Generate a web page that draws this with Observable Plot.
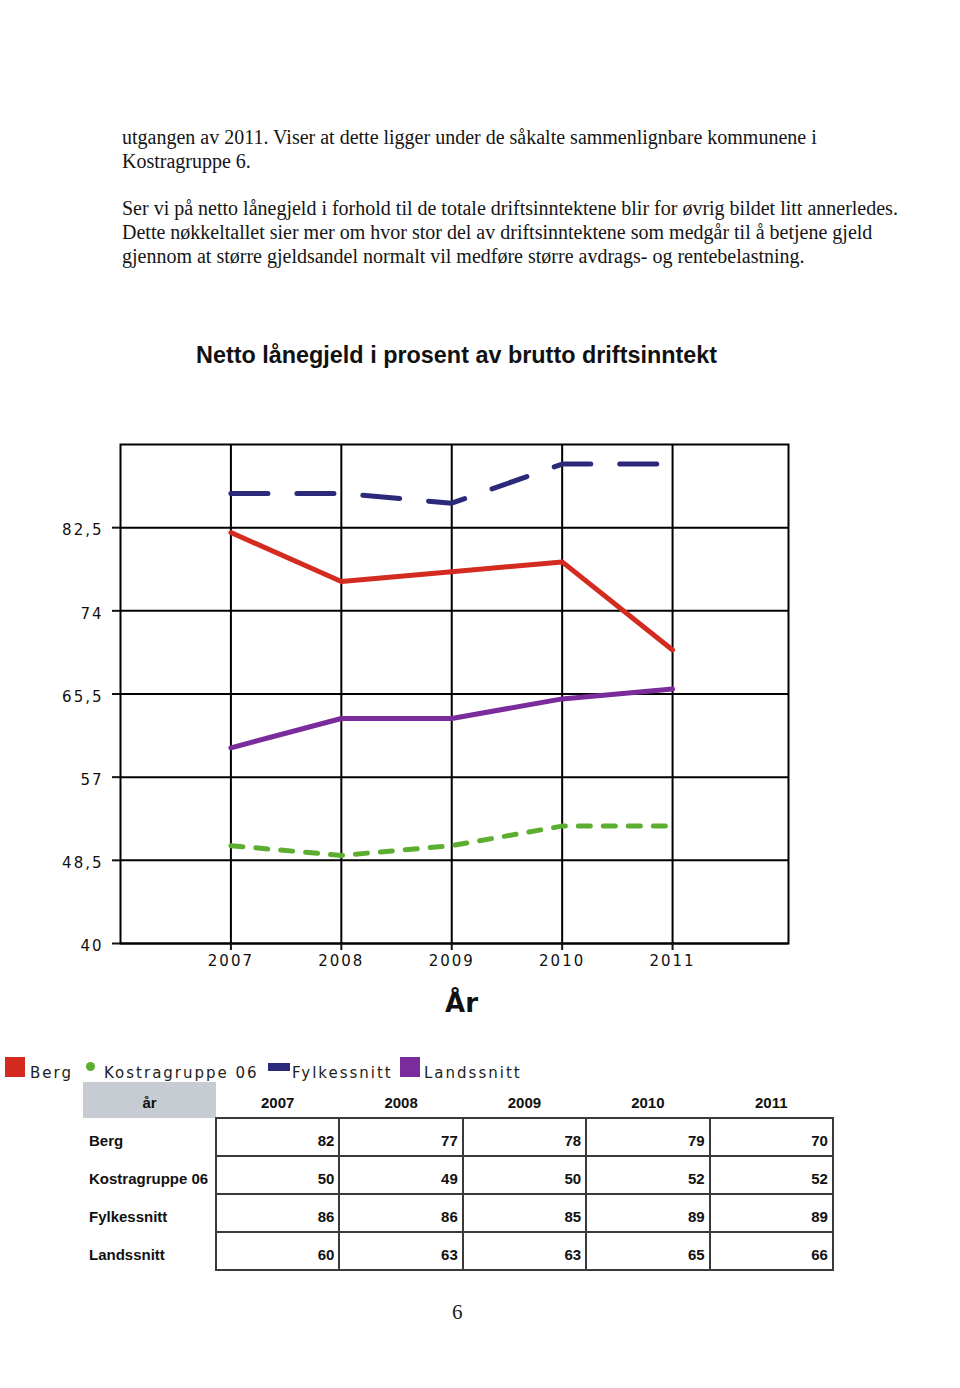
<!DOCTYPE html>
<html><head><meta charset="utf-8">
<script src="https://cdn.jsdelivr.net/npm/d3@7"></script>
<script src="https://cdn.jsdelivr.net/npm/@observablehq/plot@0.6"></script>
<style>
body{margin:0;background:#fff;width:960px;height:1388px;position:relative;overflow:hidden;}
.p{position:absolute;left:122px;font-family:"Liberation Serif","Times New Roman",serif;font-size:19.4px;color:#151515;white-space:nowrap;line-height:24px;}
#title{position:absolute;left:196px;top:341px;font-family:"Liberation Sans",Arial,sans-serif;font-weight:bold;font-size:23.4px;color:#111;white-space:nowrap;line-height:28px;}
#chart{position:absolute;left:0;top:430px;}
.leg{position:absolute;font-family:"DejaVu Sans",Verdana,sans-serif;font-size:15px;letter-spacing:2px;color:#222;white-space:nowrap;line-height:20px;}
.sw{position:absolute;}
table{position:absolute;left:83px;top:1082px;border-collapse:collapse;font-family:"Liberation Sans",Arial,sans-serif;font-weight:bold;font-size:15px;color:#111;table-layout:fixed;}
td{padding:0;}
td.h{height:36px;text-align:center;padding-top:5px;box-sizing:border-box;}
td.hy{background:#c7cbd2;}
td.lab{text-align:left;padding-left:6px;padding-top:6px;height:38px;box-sizing:border-box;}
td.v{border:2px solid #3a3a3a;text-align:right;padding-right:4px;padding-top:6px;height:38px;box-sizing:border-box;}
#pg{position:absolute;left:452px;top:1300px;font-family:"Liberation Serif",serif;font-size:21px;color:#222;}
</style></head><body>
<div id="texts"></div>
<div id="title"></div>
<div id="chart"></div>
<div id="legend"></div>
<div id="tablewrap"></div>
<div id="pg">6</div>
<script>
// ---- data ----
const years = [2007, 2008, 2009, 2010, 2011];
const seriesNames = ["Berg", "Kostragruppe 06", "Fylkessnitt", "Landssnitt"];
const berg = [82, 77, 78, 79, 70];
const kostra = [50, 49, 50, 52, 52];
const fylke = [86, 86, 85, 89, 89];
const lands = [60, 63, 63, 65, 66];
const yTicks = [40, 48.5, 57, 65.5, 74, 82.5];
const titleText = "Netto lånegjeld i prosent av brutto driftsinntekt";
const xLabel = "År";
const bodyLines = [
  "utgangen av 2011. Viser at dette ligger under de såkalte sammenlignbare kommunene i",
  "Kostragruppe 6.",
  "Ser vi på netto lånegjeld i forhold til de totale driftsinntektene blir for øvrig bildet litt annerledes.",
  "Dette nøkkeltallet sier mer om hvor stor del av driftsinntektene som medgår til å betjene gjeld",
  "gjennom at større gjeldsandel normalt vil medføre større avdrags- og rentebelastning."
];
const lineTops = [125, 149, 196, 220, 244];

const seriesValues = [berg, kostra, fylke, lands];
const colors = ["#d42b20", "#5cae30", "#2b2a7a", "#7b2c9c"];
const dashes = [null, "12,13", "37,29", null];

// ---- body text ----
const tw = document.getElementById("texts");
bodyLines.forEach((t, i) => {
  const d = document.createElement("div");
  d.className = "p"; d.textContent = t; d.style.top = lineTops[i] + "px";
  tw.appendChild(d);
});
{
  const ref = tw.children[2];
  const w = ref.getBoundingClientRect().width;
  const fs = 19.4 * 776 / w;
  for (const c of tw.children) c.style.fontSize = fs + "px";
}
document.getElementById("title").textContent = titleText;

// ---- chart ----
const long = [];
seriesNames.forEach((s, si) => years.forEach((yr, i) => long.push({series: s, year: yr, value: seriesValues[si][i]})));

const marks = [
  Plot.gridY(yTicks, {stroke: "#000", strokeOpacity: 1, strokeWidth: 2}),
  Plot.gridX(years, {stroke: "#000", strokeOpacity: 1, strokeWidth: 2}),
  Plot.frame({stroke: "#000", strokeWidth: 2}),
  // tick marks only
  Plot.axisY(yTicks, {tickFormat: () => "", tickSize: 8, strokeWidth: 2, label: null}),
  // tick labels only, nudged slightly down as in the original
  Plot.axisY(yTicks, {tickFormat: d => String(d).replace(".", ","), tickSize: 0, tickPadding: 17, label: null, dy: 3}),
  Plot.axisX(years, {tickFormat: d => String(d), tickSize: 7, tickPadding: 5, strokeWidth: 2, label: xLabel, labelAnchor: "center", labelOffset: 68, labelArrow: "none"})
];
seriesNames.forEach((s, si) => {
  const opts = {x: "year", y: "value", stroke: colors[si], strokeWidth: 5, strokeLinejoin: "round"};
  if (dashes[si]) opts.strokeDasharray = dashes[si];
  marks.push(Plot.line(long.filter(d => d.series === s), opts));
});

const svg = Plot.plot({
  width: 960, height: 590,
  marginTop: 14, marginLeft: 120, marginRight: 172, marginBottom: 77,
  x: {type: "linear", domain: [2006, 2012.05], label: null},
  y: {domain: [40, 91], label: null},
  style: {fontFamily: "DejaVu Sans, Verdana, sans-serif", fontSize: "15px", letterSpacing: "2px", color: "#111", background: "transparent", overflow: "visible"},
  marks
});
const lab = svg.querySelector('g[aria-label="x-axis label"] text');
if (lab) { lab.style.fontSize = "26px"; lab.style.fontWeight = "bold"; lab.style.letterSpacing = "0px"; lab.setAttribute("dx", "7"); }
document.getElementById("chart").appendChild(svg);

// ---- legend ----
const lg = document.getElementById("legend");
const legItems = [
  {sw: {left: 5, top: 1057, w: 20, h: 20, r: 0}, text: 30},
  {sw: {left: 86, top: 1062, w: 9, h: 9, r: 5}, text: 104},
  {sw: {left: 268, top: 1063, w: 22, h: 8, r: 0}, text: 292},
  {sw: {left: 400, top: 1057, w: 20, h: 20, r: 0}, text: 424}
];
seriesNames.forEach((s, i) => {
  const it = legItems[i];
  const b = document.createElement("div");
  b.className = "sw";
  Object.assign(b.style, {left: it.sw.left + "px", top: it.sw.top + "px", width: it.sw.w + "px", height: it.sw.h + "px", background: colors[i], borderRadius: it.sw.r + "px"});
  lg.appendChild(b);
  const t = document.createElement("div");
  t.className = "leg"; t.textContent = s;
  Object.assign(t.style, {left: it.text + "px", top: "1063px"});
  lg.appendChild(t);
});

// ---- table ----
let html = '<table><colgroup><col style="width:133px">' + years.map(() => '<col style="width:123.4px">').join("") + '</colgroup>';
html += '<tr><td class="h hy">år</td>' + years.map(y => `<td class="h">${y}</td>`).join("") + '</tr>';
seriesNames.forEach((s, si) => {
  html += `<tr><td class="lab">${s}</td>` + seriesValues[si].map(v => `<td class="v">${v}</td>`).join("") + '</tr>';
});
html += '</table>';
document.getElementById("tablewrap").innerHTML = html;
</script>
</body></html>
